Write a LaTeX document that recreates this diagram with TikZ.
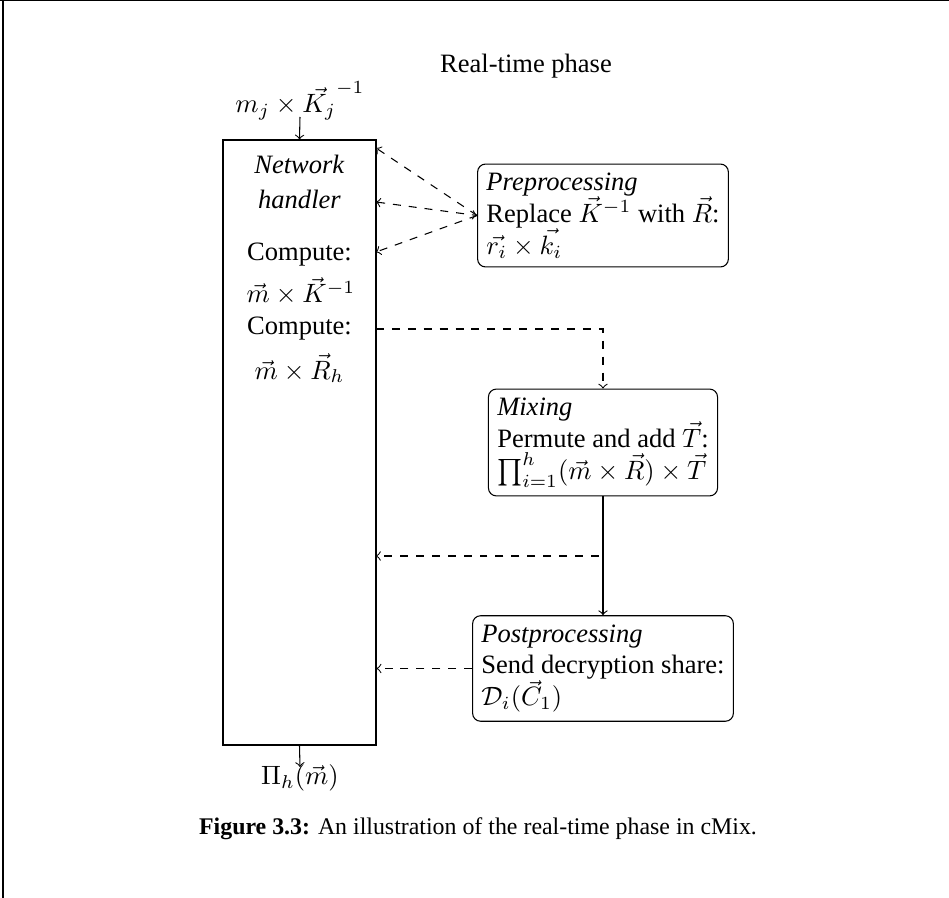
\documentclass[tikz,border=0pt]{standalone}
\usepackage[no-math]{fontspec}
\setmainfont{Liberation Serif}
\usetikzlibrary{calc}
\begin{document}
\begin{tikzpicture}[x=0.377pt,y=-0.377pt,
  procbox/.style={draw, rounded corners=3pt, align=left, inner sep=3.33pt, font=\normalsize},
  txt/.style={anchor=base, inner sep=0pt},
  dasharrow/.style={dashed,->},
  framel/.style={line width=0.5pt}]
\useasboundingbox (0,0) rectangle (949,898);
% frame
\draw[framel] (0,0.8) -- (949,0.8);
\draw[framel] (3,0) -- (3,898);

% title
\node[txt] (title) at (526,73) {Real-time phase};

% network handler
\node[draw, minimum width=57.7pt, minimum height=228.1pt, inner sep=0pt] (net) at (299.5,442.5) {};
\node[txt] (nw1) at (299.5,173) {\textit{Network}};
\node[txt] (nw2) at (299.5,209) {\textit{handler}};
\node[txt] (nw3) at (299.5,260) {Compute:};
\node[txt] (nw4) at (301,303) {$\vec{m}\times\vec{K}^{-1}$};
\node[txt] (nw5) at (299.5,335) {Compute:};
\node[txt] (nw6) at (299.5,379) {$\vec{m}\times\vec{R}_h$};

% input / output
\node[txt] (inl) at (300,113) {$m_j\times\vec{K_j}^{-1}$};
\coordinate (inpt) at (300,117);
\draw[->] (inpt) -- (net.north);
\node[txt] (outl) at (300,785) {$\Pi_h(\vec{m})$};
\coordinate (outpt) at (300,767);
\draw[->] (net.south) -- (outpt);

% process boxes
\node[procbox] (pre) at (603,215.5) {\textit{Preprocessing}\\Replace $\vec{K}^{-1}$ with $\vec{R}$:\\$\vec{r_i}\times\vec{k_i}$};
\node[procbox] (mix) at (603,442.5) {\textit{Mixing}\\Permute and add $\vec{T}$:\\$\prod_{i=1}^{h}(\vec{m}\times\vec{R})\times\vec{T}$};
\node[procbox] (post) at (603,668.5) {\textit{Postprocessing}\\Send decryption share:\\$\mathcal{D}_i(\vec{C}_1)$};

% connector ends on the network handler
\coordinate (a1) at (376,148);
\coordinate (a2) at (376,202);
\coordinate (a3) at (376,252);
\coordinate (a4) at (376,329);
\coordinate (a5) at (376,556);

\draw[dasharrow] (pre.west) -- (a1);
\draw[dashed,<->] (a2) -- (pre.west);
\draw[dasharrow] (pre.west) -- (a3);
\draw[dasharrow] (a4) -| (mix.north);
\draw[dasharrow] (mix.south) |- (a5);
\draw[->] (mix.south) -- (post.north);
\draw[dasharrow] (post.west) -- (post.west -| net.east);

% caption
\node[txt, font=\small] (cap) at (478,835) {\textbf{Figure 3.3:} An illustration of the real-time phase in cMix.};
\end{tikzpicture}
\end{document}
